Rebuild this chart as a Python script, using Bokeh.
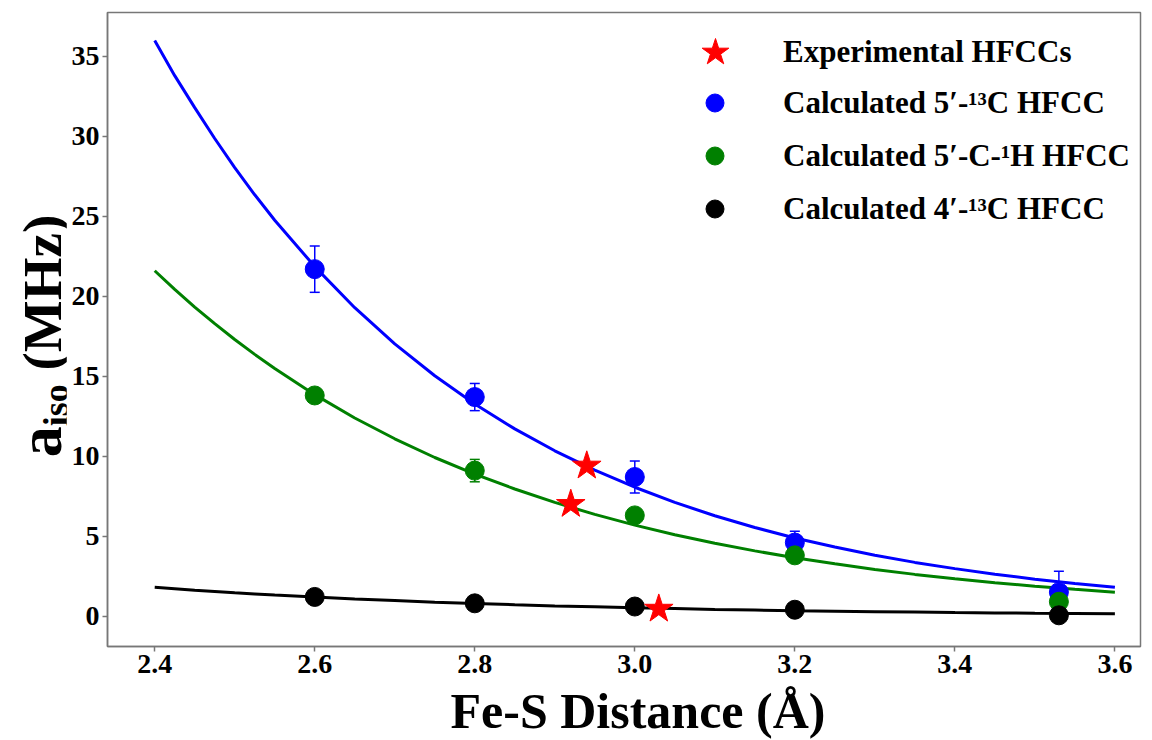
from bokeh.plotting import figure
from bokeh.models import (ColumnDataSource, Whisker, TeeHead, Legend, LegendItem,
                          FixedTicker, NumeralTickFormatter, Range1d, Div)
from bokeh.layouts import row, column
from bokeh.embed import file_html
from bokeh.resources import INLINE

# ---------------- data ----------------
calc_x = [2.60, 2.80, 3.00, 3.20, 3.53]

c13_5_y = [21.7, 13.7, 8.7, 4.6, 1.5]
c13_5_err = [1.45, 0.85, 1.0, 0.7, 1.3]

h1_5_y = [13.8, 9.1, 6.3, 3.8, 0.9]
h1_5_err = [0.3, 0.7, 0.3, 0.3, 0.3]

c13_4_y = [1.2, 0.8, 0.6, 0.4, 0.05]

exp_x = [2.94, 2.92, 3.03]
exp_y = [9.4, 7.0, 0.45]

# fitted curves
fit_x = [2.40, 2.425, 2.45, 2.475, 2.50, 2.525, 2.55, 2.60, 2.65, 2.70, 2.75, 2.80, 2.85, 2.90,
         2.95, 3.00, 3.05, 3.10, 3.15, 3.20, 3.25, 3.30, 3.35, 3.40, 3.45, 3.50, 3.55, 3.60]
fit_c13_5 = [36.0, 33.8, 31.8, 29.87, 28.05, 26.35, 24.76, 21.86, 19.29, 17.03, 15.03, 13.27,
             11.71, 10.34, 9.13, 8.06, 7.11, 6.28, 5.54, 4.89, 4.32, 3.81, 3.36, 2.97, 2.62,
             2.31, 2.04, 1.80]
fit_h1_5 = [21.6, 20.43, 19.33, 18.29, 17.30, 16.37, 15.48, 13.85, 12.39, 11.09, 9.92, 8.88,
            7.95, 7.11, 6.36, 5.69, 5.09, 4.56, 4.08, 3.65, 3.27, 2.92, 2.61, 2.34, 2.09, 1.87,
            1.68, 1.50]
fit_c13_4 = [1.80, 1.71, 1.62, 1.54, 1.46, 1.39, 1.32, 1.19, 1.07, 0.97, 0.87, 0.79, 0.71,
             0.64, 0.58, 0.52, 0.47, 0.42, 0.38, 0.34, 0.31, 0.28, 0.25, 0.22, 0.20, 0.18,
             0.17, 0.15]

x_ticks = [2.4, 2.6, 2.8, 3.0, 3.2, 3.4, 3.6]
y_ticks = [0, 5, 10, 15, 20, 25, 30, 35]

legend_labels = ["Experimental HFCCs",
                 "Calculated 5\u2032-\u00b9\u00b3C HFCC",
                 "Calculated 5\u2032-C-\u00b9H HFCC",
                 "Calculated 4\u2032-\u00b9\u00b3C HFCC"]
x_title = "Fe-S Distance (\u00c5)"

FONT = "Liberation Serif"
AXIS_COL = "#777777"

p = figure(width=1086, height=686, output_backend="svg", toolbar_location=None,
           x_range=Range1d(2.341, 3.632), y_range=Range1d(-1.9, 37.75),
           min_border_left=41, min_border_right=12, min_border_top=12, min_border_bottom=40)
p.grid.visible = False
p.outline_line_color = AXIS_COL
p.outline_line_width = 1.5
p.background_fill_color = "white"
p.border_fill_color = "white"

for ax in (p.xaxis[0], p.yaxis[0]):
    ax.axis_line_color = AXIS_COL
    ax.axis_line_width = 1.5
    ax.major_tick_line_color = AXIS_COL
    ax.major_tick_line_width = 1.5
    ax.major_tick_in = 0
    ax.major_tick_out = 5
    ax.minor_tick_line_color = None
    ax.major_label_text_font = FONT
    ax.major_label_text_font_style = "bold"
    ax.major_label_text_font_size = "28px"
    ax.major_label_text_color = "black"
    ax.major_label_standoff = 3

p.xaxis.ticker = FixedTicker(ticks=x_ticks)
p.xaxis.formatter = NumeralTickFormatter(format="0.0")
p.yaxis.ticker = FixedTicker(ticks=y_ticks)

# fitted curves
p.line(fit_x, fit_c13_4, line_color="black", line_width=3)
p.line(fit_x, fit_h1_5, line_color="#008000", line_width=3)
p.line(fit_x, fit_c13_5, line_color="#0000ff", line_width=3)

# error bars
src_b = ColumnDataSource(dict(x=calc_x, y=c13_5_y,
                              lo=[v - e for v, e in zip(c13_5_y, c13_5_err)],
                              hi=[v + e for v, e in zip(c13_5_y, c13_5_err)]))
src_g = ColumnDataSource(dict(x=calc_x, y=h1_5_y,
                              lo=[v - e for v, e in zip(h1_5_y, h1_5_err)],
                              hi=[v + e for v, e in zip(h1_5_y, h1_5_err)]))
for src, col in ((src_b, "#0000ff"), (src_g, "#008000")):
    w = Whisker(source=src, base="x", lower="lo", upper="hi", dimension="height",
                line_color=col, line_width=1.5,
                upper_head=TeeHead(size=10, line_color=col, line_width=1.5),
                lower_head=TeeHead(size=10, line_color=col, line_width=1.5))
    w.level = "underlay"
    p.add_layout(w)

r_blue = p.scatter(calc_x, c13_5_y, marker="circle", size=19, fill_color="#0000ff", line_color="#0000ff")
r_green = p.scatter(calc_x, h1_5_y, marker="circle", size=19, fill_color="#008000", line_color="#008000")
r_black = p.scatter(calc_x, c13_4_y, marker="circle", size=19, fill_color="black", line_color="black")
r_star = p.scatter(exp_x, exp_y, marker="star", size=30, fill_color="#ff0000", line_color="#ff0000")

leg_common = dict(border_line_alpha=0, background_fill_alpha=0, padding=0, margin=0,
                  label_text_font=FONT, label_text_font_style="bold",
                  label_text_font_size="31px", label_text_color="black")
leg1 = Legend(items=[LegendItem(label=legend_labels[0], renderers=[r_star])],
              location=(573, 559), glyph_width=70, glyph_height=70, label_standoff=33,
              **leg_common)
leg2 = Legend(items=[LegendItem(label=legend_labels[1], renderers=[r_blue]),
                     LegendItem(label=legend_labels[2], renderers=[r_green]),
                     LegendItem(label=legend_labels[3], renderers=[r_black])],
              location=(585, 415), glyph_width=45, glyph_height=45, label_standoff=46,
              spacing=8, **leg_common)
p.add_layout(leg1)
p.add_layout(leg2)

# axis titles as HTML text (the y title needs a subscript)
ylab = Div(width=66, height=686, margin=0, text=(
    '<div style="position:absolute; left:40px; top:336px; white-space:nowrap; '
    'transform:translate(-50%,-50%) rotate(-90deg); font-family:\'Liberation Serif\'; '
    'font-weight:bold; color:black; line-height:1;">'
    '<span style="font-size:62px;">a</span>'
    '<span style="font-size:36px; position:relative; top:7px;">iso</span>'
    '<span style="font-size:55px;"> (MHz)</span></div>'))
xlab = Div(width=1152, height=54, margin=0, text=(
    '<div style="position:absolute; left:638px; top:0px; white-space:nowrap; '
    'transform:translateX(-50%); font-family:\'Liberation Serif\'; font-weight:bold; '
    'font-size:50px; color:black; line-height:1;">' + x_title + '</div>'))

layout = column(row(ylab, p, spacing=0), xlab, spacing=0)

open("out.html", "w").write(file_html(layout, INLINE))
